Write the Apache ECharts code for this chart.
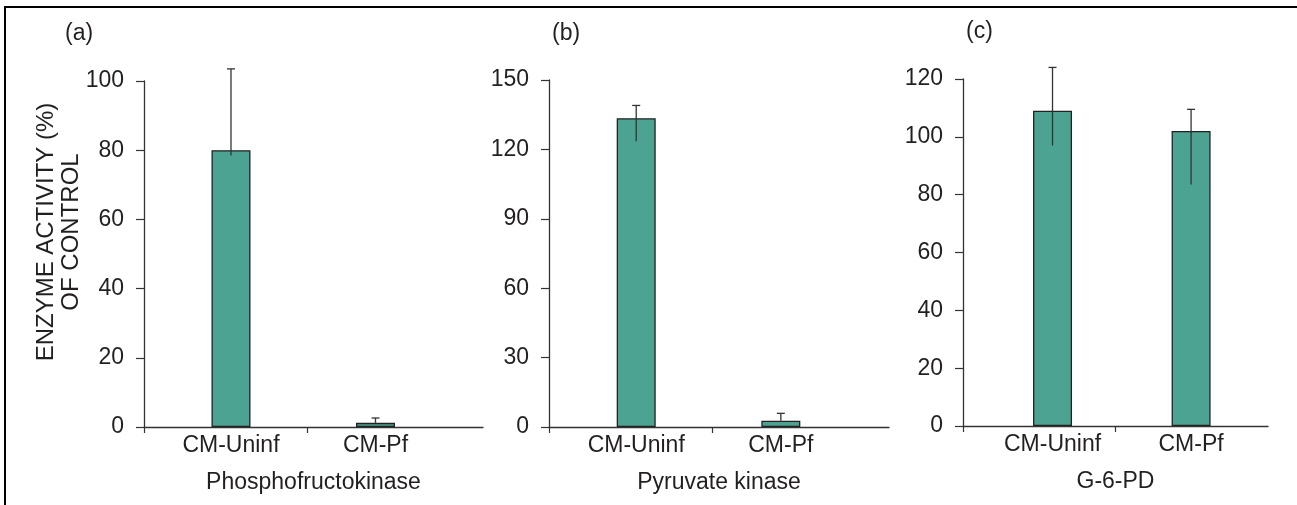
<!DOCTYPE html>
<html>
<head>
<meta charset="utf-8">
<script src="https://cdn.jsdelivr.net/npm/echarts@6/dist/echarts.min.js"></script>
<style>
html,body{margin:0;padding:0;background:#fff;}
#c{width:1297px;height:505px;}
</style>
</head>
<body>
<div id="c"></div>
<script>
const categories = ['CM-Uninf', 'CM-Pf'];
const enzymes = ['Phosphofructokinase', 'Pyruvate kinase', 'G-6-PD'];
const panelLabels = ['(a)', '(b)', '(c)'];
const yAxisTitle = 'ENZYME ACTIVITY (%)\nOF CONTROL';

const pfkValues = [80, 1.2];
const pfkLow = [78.5, 1.2];
const pfkHigh = [103.5, 2.6];

const pkValues = [133.5, 2.7];
const pkLow = [123.5, 2.7];
const pkHigh = [139, 5.9];

const g6pdValues = [109, 102];
const g6pdLow = [97, 83.5];
const g6pdHigh = [124, 109.5];

const yMaxes = [100, 150, 120];
const yIntervals = [20, 30, 20];

const panels = [
  {values: pfkValues, low: pfkLow, high: pfkHigh},
  {values: pkValues, low: pkLow, high: pkHigh},
  {values: g6pdValues, low: g6pdLow, high: g6pdHigh}
];

// layout
const grids = [
  {left: 144, top: 81, width: 339, height: 346},
  {left: 549, top: 80, width: 340, height: 347},
  {left: 963, top: 79, width: 305, height: 347}
];
const xMins = [0.398, 0.397, 0.354];
const xMaxs = [2.744, 2.748, 2.555];
const midTicks = [1.526, 1.529, 1.45];
const titlePos = [[80, 35], [567, 35], [981, 33]];

const FONT = '"Liberation Sans", Arial, Helvetica, sans-serif';
const TXT = '#231f20';
const AX = '#333';
const FS = 23;

const option = {
  animation: false,
  backgroundColor: '#fff',
  textStyle: {fontFamily: FONT},
  grid: grids.map(g => Object.assign({containLabel: false}, g)),
  title: panelLabels.map((t, i) => ({
    text: t, left: titlePos[i][0] - 15, top: titlePos[i][1] - 13, padding: 0,
    textStyle: {fontSize: FS, fontWeight: 'normal', color: TXT, fontFamily: FONT}
  })),
  xAxis: panels.map((p, i) => ({
    gridIndex: i, type: 'value', min: xMins[i], max: xMaxs[i],
    axisLine: {show: true, onZero: false, lineStyle: {color: AX, width: 1.3}},
    axisTick: {show: true, customValues: [xMins[i], midTicks[i]], length: 6, lineStyle: {color: AX, width: 1.2}},
    axisLabel: {
      customValues: [1, 2],
      formatter: v => categories[Math.round(v) - 1] || '',
      margin: 7, fontSize: FS, color: TXT, fontFamily: FONT
    },
    splitLine: {show: false},
    name: enzymes[i], nameLocation: 'middle', nameGap: 44,
    nameTextStyle: {fontSize: FS, color: TXT, fontFamily: FONT}
  })),
  yAxis: panels.map((p, i) => ({
    gridIndex: i, type: 'value', min: 0, max: yMaxes[i], interval: yIntervals[i],
    axisLine: {show: true, onZero: false, lineStyle: {color: AX, width: 1.3}},
    axisTick: {show: true, inside: false, length: 8, lineStyle: {color: AX, width: 1.2}},
    axisLabel: {margin: 20, fontSize: FS, color: TXT, fontFamily: FONT},
    splitLine: {show: false}
  })),
  series: [].concat(...panels.map((p, i) => [
    {
      type: 'bar', xAxisIndex: i, yAxisIndex: i,
      data: p.values.map((v, j) => [j + 1, v]),
      barWidth: 39,
      itemStyle: {color: '#4da392', borderColor: '#222', borderWidth: 1.3}
    },
    {
      type: 'custom', xAxisIndex: i, yAxisIndex: i, z: 10,
      encode: {x: 0, y: [1, 2]},
      data: p.values.map((v, j) => [j + 1, p.low[j], p.high[j]]),
      renderItem: (params, api) => {
        const x = api.value(0);
        const top = api.coord([x, api.value(2)]);
        const bot = api.coord([x, api.value(1)]);
        const st = {stroke: '#333', lineWidth: 1.3};
        return {
          type: 'group',
          children: [
            {type: 'line', shape: {x1: top[0], y1: top[1], x2: bot[0], y2: bot[1]}, style: st},
            {type: 'line', shape: {x1: top[0] - 4, y1: top[1], x2: top[0] + 4, y2: top[1]}, style: st}
          ]
        };
      }
    }
  ])),
  graphic: [
    {type: 'line', shape: {x1: 4, y1: 7, x2: 1297, y2: 7}, style: {stroke: '#000', lineWidth: 2}},
    {type: 'line', shape: {x1: 5, y1: 6, x2: 5, y2: 505}, style: {stroke: '#000', lineWidth: 2}},
    {
      type: 'text', x: 59, y: 232, rotation: Math.PI / 2,
      style: {
        text: yAxisTitle, align: 'center', verticalAlign: 'middle',
        fontSize: 24, lineHeight: 25, fill: TXT, fontFamily: FONT
      }
    }
  ]
};

const chart = echarts.init(document.getElementById('c'), null, {renderer: 'canvas'});
chart.setOption(option);
</script>
</body>
</html>
